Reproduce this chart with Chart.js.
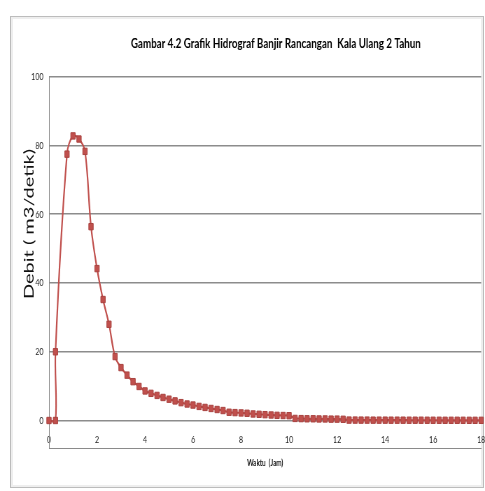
<!DOCTYPE html>
<html>
<head>
<meta charset="utf-8">
<script src="https://cdn.jsdelivr.net/npm/chart.js@4.4.0/dist/chart.umd.min.js"></script>
<style>
  html, body { margin: 0; padding: 0; overflow: hidden; background: #fff; }
  #frame { position: absolute; left: 10px; top: 16px; width: 472px; height: 470px; border: 1px solid #bcbcbc; box-shadow: inset 0 0 0 2px #eeeeee; }
  #wrap { position: absolute; left: 0; top: 0; width: 693px; height: 491px; transform: scaleX(0.69986); transform-origin: 0 0; }
</style>
</head>
<body>
<div id="frame"></div>
<div id="wrap"><canvas id="hidrograf" width="693" height="491"></canvas></div>
<script>
// =========================== hidrograf =================
const hours = [0, 0.27, 0.27, 0.75, 1, 1.25, 1.5, 1.75, 2, 2.25, 2.5, 2.75, 3, 3.25, 3.5, 3.75,
  4, 4.25, 4.5, 4.75, 5, 5.25, 5.5, 5.75, 6, 6.25, 6.5, 6.75, 7, 7.25, 7.5, 7.75,
  8, 8.25, 8.5, 8.75, 9, 9.25, 9.5, 9.75, 10, 10.25, 10.5, 10.75, 11, 11.25, 11.5, 11.75,
  12, 12.25, 12.5, 12.75, 13, 13.25, 13.5, 13.75, 14, 14.25, 14.5, 14.75, 15, 15.25, 15.5, 15.75,
  16, 16.25, 16.5, 16.75, 17, 17.25, 17.5, 17.75, 18];

const debit = [0, 0, 20, 77.5, 82.8, 81.9, 78.3, 56.4, 44.2, 35.2, 28.0, 18.6, 15.4, 13.2, 11.3, 9.9,
  8.6, 7.9, 7.3, 6.7, 6.2, 5.7, 5.2, 4.8, 4.5, 4.1, 3.8, 3.5, 3.2, 2.9, 2.4, 2.3,
  2.2, 2.1, 1.9, 1.8, 1.7, 1.6, 1.5, 1.45, 1.4, 0.6, 0.55, 0.5, 0.5, 0.45, 0.45, 0.4,
  0.4, 0.35, 0.12, 0.12, 0.11, 0.11, 0.1, 0.1, 0.1, 0.09, 0.09, 0.09, 0.08, 0.08, 0.08, 0.07,
  0.07, 0.07, 0.06, 0.06, 0.06, 0.06, 0.05, 0.05, 0.05];

const yTicks = [0, 20, 40, 60, 80, 100];
const xTicks = [0, 2, 4, 6, 8, 10, 12, 14, 16, 18];

const chartTitle = "Gambar 4.2 Grafik Hidrograf Banjir Rancangan  Kala Ulang 2 Tahun";
const xTitle = "Waktu  (Jam)";
const yTitle = "Debit ( m3/detik)";

const fontFam = 'Lato, "Open Sans", sans-serif';

let chartEle = document.getElementById("hidrograf").getContext("2d");

let chart = new Chart(chartEle, {
  type: "line",
  data: {
    datasets: [
      {
        data: hours.map((h, i) => ({ x: h, y: debit[i] })),
        borderColor: "#c0504d",
        borderWidth: 2.2,
        tension: 0.35,
        pointStyle: "rect",
        pointRadius: 4.5,
        pointBackgroundColor: "#c0504d",
        pointBorderColor: "#a9423f",
        pointBorderWidth: 1,
        clip: false,
      },
    ],
  },
  options: {
    responsive: false,
    animation: false,
    layout: { padding: { left: 30, right: 4, top: 0, bottom: 18 } },
    plugins: {
      legend: { display: false },
      tooltip: { enabled: false },
      title: {
        display: true,
        fullSize: false,
        // leading spaces nudge the centred title to the right, as in the original
        text: " ".repeat(9) + chartTitle,
        color: "#000",
        font: { family: fontFam, size: 14, weight: "bold" },
        padding: { top: 35, bottom: 25 },
      },
    },
    scales: {
      x: {
        type: "linear",
        min: 0,
        max: 18,
        afterBuildTicks: (scale) => {
          scale.ticks = xTicks.map((v) => ({ value: v }));
        },
        afterFit: (scale) => {
          scale.height = 25;
          scale.paddingLeft = 0;
          scale.paddingRight = 0;
        },
        // mirrored so the labels sit just above the plot's bottom edge
        ticks: { mirror: true, padding: 2, maxRotation: 0, color: "#222", font: { family: fontFam, size: 10 } },
        grid: { display: false, drawTicks: false },
        border: { display: true, color: "#8a8a8a", width: 1 },
        title: {
          display: true,
          text: xTitle,
          color: "#111",
          font: { family: fontFam, size: 9, weight: "bold" },
          padding: { top: 0, bottom: 5 },
        },
      },
      y: {
        min: -8,
        max: 100,
        afterBuildTicks: (scale) => {
          scale.ticks = yTicks.map((v) => ({ value: v }));
        },
        afterFit: (scale) => {
          scale.width = 40;
        },
        ticks: { padding: 8, color: "#222", font: { family: fontFam, size: 10 } },
        grid: { color: "#8c8c8c", lineWidth: 1.6, drawTicks: false },
        border: { display: true, color: "#8a8a8a", width: 1 },
        title: {
          display: true,
          // leading spaces lift the centred axis title, as in the original
          text: " ".repeat(15) + yTitle,
          color: "#111",
          font: { family: fontFam, size: 20, weight: "normal" },
          padding: { top: 0, bottom: 0 },
        },
      },
    },
  },
});
</script>
</body>
</html>
